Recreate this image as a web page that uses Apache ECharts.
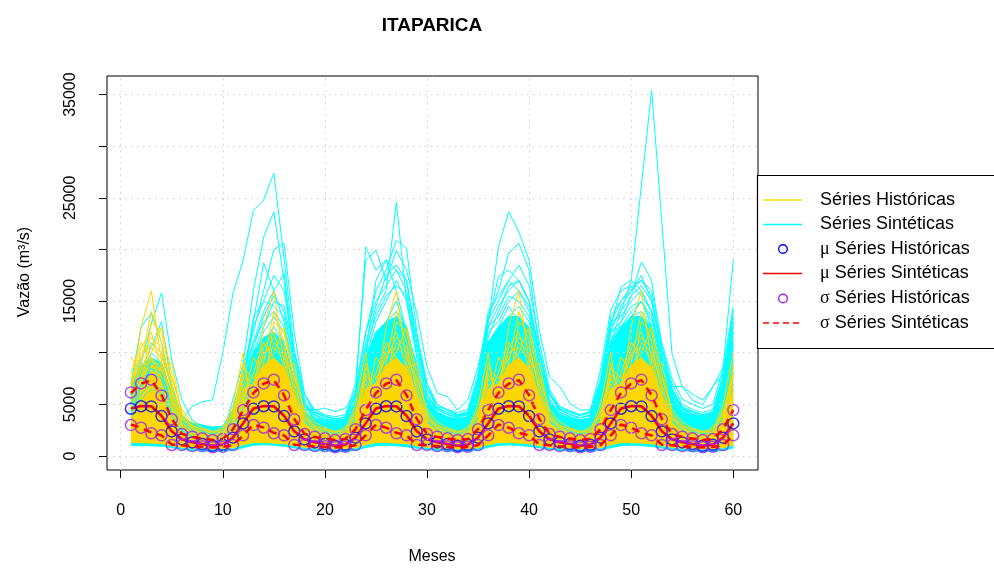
<!DOCTYPE html>
<html><head><meta charset="utf-8">
<script src="https://cdn.jsdelivr.net/npm/echarts@6/dist/echarts.min.js"></script>
<style>html,body{margin:0;padding:0;background:#fff}#c{width:994px;height:568px}</style>
</head><body><div id="c"></div>
<script>
// ---------- DATA ----------
const months = Array.from({length: 60}, (_, i) => i + 1);
const xTicks = [0, 10, 20, 30, 40, 50, 60];
const yTicks = [0, 5000, 10000, 15000, 20000, 25000, 30000, 35000];
const yTickLabels = [0, 5000, 15000, 25000, 35000];

// Monthly statistics (12 months, repeated every year)
const histMean12  = [4580, 4820, 4800, 3870, 2380, 1610, 1320, 1160, 990, 1080, 1780, 3160];
const histUpper12 = [6160, 7030, 7390, 5870, 3550, 2130, 1870, 1710, 1550, 1640, 2580, 4450];
const histLower12 = [3000, 2740, 2200, 2000, 1070, 1060, 960, 950, 850, 900, 1060, 2000];
const synMean12   = [4600, 4850, 4820, 3900, 2400, 1620, 1330, 1170, 1000, 1090, 1790, 3180];
const synUpper12  = [6100, 7000, 7350, 5900, 3600, 2150, 1850, 1700, 1550, 1650, 2600, 4450];
const synLower12  = [3050, 2750, 2250, 2000, 1100, 1050, 950, 900, 830, 880, 1050, 2000];

// Historical series (dense band + individual years), 12-month patterns
const goldLow12  = [1300, 1300, 1250, 1200, 1000, 850, 760, 720, 680, 700, 800, 1100];
const goldCore12 = [7000, 8800, 9500, 8500, 5800, 3200, 2400, 2100, 1900, 2100, 3400, 6500];
const gold1 = [9600, 8000, 7000, 5500, 4000, 2600, 2000, 1700, 1500, 1700, 2500, 5000];
const gold2 = [6000, 12500, 16000, 9000, 5500, 3200, 2400, 2000, 1800, 1900, 3000, 6500];
const gold3 = [5500, 9000, 14000, 11000, 6000, 3500, 2600, 2200, 2000, 2100, 3500, 7500];
const gold4 = [7000, 10500, 12000, 8500, 9000, 4000, 2800, 2300, 2000, 2200, 4000, 8000];
const gold5 = [4500, 7500, 11000, 10000, 5000, 3000, 2200, 1900, 1700, 1800, 2800, 9000];
const gold6 = [8000, 11000, 9500, 7000, 4500, 2800, 2100, 1800, 1600, 1900, 4500, 6000];
const gold7 = [3500, 6500, 13000, 12000, 7000, 3800, 2700, 2200, 2000, 2400, 5000, 10000];
const gold8 = [5000, 8500, 10000, 12500, 8000, 4200, 3000, 2500, 2200, 2600, 3800, 7000];
const gold9 = [7500, 9500, 11500, 10500, 6500, 3600, 2900, 2600, 2300, 2800, 4200, 8500];
const gold10 = [6500, 10000, 10500, 9500, 7500, 4500, 3300, 2700, 2400, 2300, 3300, 7800];

// Synthetic series: dense band (60 months) + individual series
const cyanLow = [1000,1000,1000,950,800,650,550,480,430,440,550,800,
  1050,1100,1050,950,780,620,520,470,420,430,540,820,
  1000,1050,1000,900,760,630,530,480,440,450,560,850,
  1020,1080,1020,940,790,640,540,470,420,430,550,800,
  1000,1050,1000,920,770,610,510,460,410,420,530,780];
const cyanCore = [6000,8500,9500,9000,6000,3800,3200,3000,2800,2900,4500,7500,
  10000,11500,12000,11000,7500,4300,3600,3400,3300,3500,5200,9500,
  12000,13000,13500,12500,8500,5500,4200,3800,3600,3800,6500,11000,
  12500,13500,13500,12500,8500,5200,4000,3700,3500,3600,6200,11000,
  12500,13500,13500,12500,8500,5800,4300,3900,3700,4000,6800,11500];
const syn1 = [5200,7000,8500,7500,4200,3600,4800,5250,5430,9970,15770,18970,
  23800,24770,27390,19160,10260,6000,4300,3900,3600,3500,5000,9000,
  11000,12500,13000,11500,8000,5000,3800,3300,3000,3200,5500,9500,
  10500,12000,12500,11000,7000,4500,3500,3000,2800,2900,5000,9000,
  11500,12500,13500,11000,7500,5000,3800,3300,3000,3200,5500,9500];
const syn2 = [4500,6800,9000,8000,5000,3000,2400,2100,1900,2200,5500,9000,
  16000,21200,23640,17000,9000,5000,3800,3400,3200,3300,4500,8000,
  12000,13000,15000,12000,8000,4800,3600,3200,3000,3400,6000,11000,
  12500,14500,13000,12000,7500,4500,3600,3100,2800,3000,5500,10000,
  12000,13500,15000,12500,8000,5500,4000,3600,3300,3600,6000,10500];
const syn3 = [6000,8500,10500,13000,7000,3800,2800,2400,2200,2300,3500,8000,
  12000,16000,20000,20600,12000,6000,4200,3800,3500,3800,6000,12000,
  16000,18000,20900,20100,12000,7000,4600,4000,3700,4000,7000,12000,
  13000,15000,16000,14000,9000,5500,4000,3500,3200,3500,6000,11000,
  13000,15500,18800,17000,10500,6500,4500,4000,3800,4000,7000,12000];
const syn4 = [7000,12500,13800,11000,6500,3500,2600,2300,2000,2100,3800,7000,
  13000,18700,16000,17700,9500,5000,3600,3200,3000,3200,5000,10000,
  14000,16000,24600,15000,10000,6000,4200,3700,3400,3600,6500,11500,
  14000,16500,17000,15000,10000,6000,4300,3800,3500,3700,6500,12000,
  14500,16000,17000,15500,10000,6500,4800,4300,4000,4200,7000,13000];
const syn5 = [5500,9000,12800,15800,9300,5400,3500,2800,2500,2600,4000,7500,
  11000,14000,16000,13000,8000,4800,3800,3400,3100,3300,5500,10000,
  17000,19000,18000,16000,11000,7000,5000,4400,4000,4200,7500,13000,
  17350,18000,17000,15000,10000,6000,4500,4000,3700,3900,6800,12500,
  16380,17030,16000,14000,9500,6500,4600,4000,3800,4100,8000,14130];
const syn6 = [5000,7000,8000,7500,4500,2700,2100,1800,1600,1800,3000,6500,
  9000,11000,12500,11000,7000,4000,3200,2900,2700,2800,4500,8500,
  10500,12500,13500,12000,8000,5000,3800,3400,3100,3300,5800,10000,
  11000,12000,13000,12000,8500,5200,4000,3500,3300,3500,6500,11000,
  14000,17000,26200,35400,22700,9900,6700,6000,5400,6700,8600,18970];
const syn7 = [4800,8000,10000,9000,5500,3200,2500,2200,2000,2300,4200,8000,
  11000,13000,14000,12500,8500,5000,4000,3500,3300,3600,6000,20250,
  18000,19000,16000,12000,9000,6000,4500,4000,3800,4000,7000,12500,
  13500,15500,15000,13500,9000,5500,4200,3800,3500,3700,6500,12000,
  12500,14000,15000,13000,9000,6000,4500,4000,3700,4000,6800,12000];
const syn8 = [5800,8800,9500,9000,6000,3600,2700,2400,2100,2300,4000,7500,
  10000,12500,15000,14500,10000,6000,4500,4000,3800,4000,7000,18970,
  19930,17000,19900,18000,13800,8640,6100,5740,4450,5420,8640,13160,
  15000,17000,16000,14500,9500,6000,4500,4000,3700,4000,7000,13000,
  13500,15000,16000,14000,9000,6200,4700,4300,4000,4300,7500,13000];
const syn9 = [4200,6500,8500,8000,5000,3000,2300,2000,1800,2000,3500,6000,
  9500,12000,13500,12000,8000,4600,3600,3200,3000,3200,5200,9500,
  13000,15000,17000,15000,9500,5800,4300,3800,3500,3800,7000,13000,
  20250,23640,21700,18970,12190,7670,6710,5100,4450,4450,8320,14130,
  16000,16500,15500,14000,9000,6000,4500,4000,3800,4000,7000,12500];
const syn10 = [5500,8000,9000,8500,5500,3300,2500,2200,2000,2200,3800,7000,
  10500,13500,15500,14000,9000,5200,4000,3600,3400,3600,6000,11000,
  14500,17500,18500,17000,11000,6500,4700,4200,3900,4200,7500,13500,
  16000,19640,20600,18000,10260,6200,4600,4200,3900,4200,7200,13000,
  15000,16000,17500,15000,10580,7000,5000,4500,4200,4500,7800,13500];
const syn11 = [6200,9500,11000,10000,6500,4000,3000,2600,2400,2500,4500,8500,
  12500,15000,17500,16000,10000,5500,4200,3800,3600,3800,6500,12000,
  15000,16500,18000,17000,11500,7000,5000,4500,4200,4500,8000,14000,
  15500,17000,18500,16500,11000,6500,4800,4300,4000,4300,7500,13500,
  15000,16380,17030,16000,11000,7500,5500,5000,4600,5000,8500,14500];
const syn12 = [4000,6000,7000,6500,4000,2500,2000,1800,1600,1700,2800,5000,
  8000,10000,11000,10000,7000,4500,4450,4640,4290,4640,6100,9000,
  11000,13000,14000,12500,8500,5500,4770,4500,4000,4300,7000,11000,
  12000,13500,14500,13000,9000,6000,4800,4400,4000,4300,7000,12000,
  13000,14500,15000,13500,9000,6710,6710,5420,4940,6710,8000,11000];
const syn13 = [3500,5500,6500,6000,3800,2400,1900,1700,1500,1600,2600,4500,
  7000,9000,10500,9500,6500,4000,3200,2800,2600,2800,4500,8000,
  10000,12000,13000,11000,7500,4800,3700,3300,3100,3300,5500,9500,
  11000,12500,13500,12000,8000,5000,3900,3500,3200,3400,6000,10500,
  12000,13500,14000,12500,8500,5500,4200,3800,3500,3800,6500,13500];
const syn14 = [5200,8200,9200,8800,5800,3400,2600,2300,2100,2300,4000,7200,
  13500,15000,14500,13500,9000,5200,4000,3600,3400,3600,5800,10500,
  13500,15500,16500,15500,10500,6500,4600,4200,3900,4100,7200,12500,
  14500,16000,17000,15000,10000,6000,4500,4000,3700,4000,6800,12500,
  14000,15500,16500,15000,9800,6300,4600,4200,3900,4200,7200,12800];

// ---------- BUILD ----------
const FONT = '"Liberation Sans", Arial, Helvetica, sans-serif';
const GOLD = '#FFD700', CYAN = '#00FFFF', BLUE = '#0000FF', PURPLE = '#A020F0', RED = '#FF0000';
const tile = a => a.concat(a, a, a, a);
const pairs = vals => vals.map((v, i) => [months[i], v]);

function line(vals, color, width, extra) {
  return Object.assign({
    type: 'line', data: pairs(vals), symbol: 'none', showSymbol: false, silent: true,
    animation: false, lineStyle: {color: color, width: width}, z: 2
  }, extra || {});
}
// stacked band: value in first column so the stack applies to the y values
function band(low, high, color, stackId) {
  const diff = high.map((v, i) => v - low[i]);
  const mk = (vals, extra) => Object.assign({
    type: 'line', data: vals.map((v, i) => [v, months[i]]), encode: {x: 1, y: 0},
    symbol: 'none', showSymbol: false, silent: true, animation: false, stack: stackId,
    lineStyle: {color: color, width: 1}, z: 2
  }, extra || {});
  return [mk(low), mk(diff, {areaStyle: {color: color, opacity: 1}})];
}
function pointsSeries(vals, color) {
  return {
    type: 'scatter', data: pairs(vals), symbol: 'circle', symbolSize: 11, silent: true, animation: false,
    itemStyle: {color: 'rgba(0,0,0,0)', borderColor: color, borderWidth: 1.5}, z: 3
  };
}

const series = [];
// grid lines (dotted, light gray)
series.push({
  type: 'line', data: [], silent: true, animation: false, z: 1,
  markLine: {
    silent: true, symbol: 'none', animation: false, label: {show: false},
    lineStyle: {color: '#cfcfcf', type: [1.5, 4.5], width: 1},
    data: yTicks.map(v => ({yAxis: v})).concat(xTicks.map(v => ({xAxis: v})))
  }
});
band(cyanLow, cyanCore, CYAN, 'cyan').forEach(s => series.push(s));
[syn1, syn2, syn3, syn4, syn5, syn6, syn7, syn8, syn9, syn10, syn11, syn12, syn13, syn14]
  .forEach(s => series.push(line(s, CYAN, 1)));
band(tile(goldLow12), tile(goldCore12), GOLD, 'gold').forEach(s => series.push(s));
[gold1, gold2, gold3, gold4, gold5, gold6, gold7, gold8, gold9, gold10]
  .forEach(g => series.push(line(tile(g), GOLD, 1)));
series.push(pointsSeries(tile(histMean12), BLUE));
series.push(line(tile(synMean12), RED, 2.5, {z: 3}));
series.push(pointsSeries(tile(histUpper12), PURPLE));
series.push(pointsSeries(tile(histLower12), PURPLE));
series.push(line(tile(synUpper12), RED, 2.5, {z: 4, lineStyle: {color: RED, width: 2.5, type: [8, 6]}}));
series.push(line(tile(synLower12), RED, 2.5, {z: 4, lineStyle: {color: RED, width: 2.5, type: [8, 6]}}));

// legend drawn as graphic
const legendItems = [
  {kind: 'line', color: GOLD, sym: '', text: 'Séries Históricas'},
  {kind: 'line', color: CYAN, sym: '', text: 'Séries Sintéticas'},
  {kind: 'circle', color: BLUE, sym: 'μ', text: ' Séries Históricas'},
  {kind: 'line', color: RED, sym: 'μ', text: ' Séries Sintéticas'},
  {kind: 'circle', color: PURPLE, sym: 'σ', text: ' Séries Históricas'},
  {kind: 'dash', color: RED, sym: 'σ', text: ' Séries Sintéticas'}
];
const legendRowsY = [200, 224.5, 249, 273.5, 298.5, 323];
const graphics = [
  {type: 'text', x: 432, y: 26, style: {text: 'ITAPARICA', fontFamily: FONT, fontSize: 19, fontWeight: 'bold', fill: '#000', align: 'center', verticalAlign: 'middle'}},
  {type: 'text', x: 432, y: 557, style: {text: 'Meses', fontFamily: FONT, fontSize: 16, fill: '#000', align: 'center', verticalAlign: 'middle'}},
  {type: 'text', x: 25, y: 272, rotation: Math.PI / 2, style: {text: 'Vazão (m³/s)', fontFamily: FONT, fontSize: 16, fill: '#000', align: 'center', verticalAlign: 'middle'}},
  {type: 'rect', shape: {x: 757.5, y: 175.5, width: 260, height: 173}, style: {fill: '#fff', stroke: '#000', lineWidth: 1.2}, z: 10}
];
legendItems.forEach((it, i) => {
  const y = legendRowsY[i];
  if (it.kind === 'circle') {
    graphics.push({type: 'circle', shape: {cx: 783, cy: y, r: 4.3}, style: {fill: 'none', stroke: it.color, lineWidth: 1.4}, z: 11});
  } else {
    const st = {stroke: it.color, lineWidth: 1.5};
    if (it.kind === 'dash') st.lineDash = [6, 4];
    graphics.push({type: 'line', shape: {x1: 763, y1: y, x2: 802, y2: y}, style: st, z: 11});
  }
  graphics.push({type: 'text', x: 820, y: y, z: 11, style: {
    text: (it.sym ? '{g|' + it.sym + '}' : '') + it.text,
    fontFamily: FONT, fontSize: 18, fill: '#000', verticalAlign: 'middle', align: 'left',
    rich: {g: {fontFamily: '"Liberation Serif", "Times New Roman", serif', fontSize: 18, fill: '#000'}}
  }});
});

const chart = echarts.init(document.getElementById('c'), null, {renderer: 'canvas'});
chart.setOption({
  backgroundColor: '#fff',
  animation: false,
  grid: {left: 107, top: 76, right: 236, bottom: 98, show: true, borderColor: '#000', borderWidth: 1, backgroundColor: 'transparent'},
  xAxis: {
    type: 'value', min: -1.34, max: 62.42,
    axisLine: {show: false, onZero: false},
    axisTick: {show: true, length: 8, lineStyle: {color: '#000'}, customValues: xTicks},
    axisLabel: {show: true, fontFamily: FONT, fontSize: 16, color: '#000', margin: 33, customValues: xTicks, formatter: v => String(v)},
    splitLine: {show: false}
  },
  yAxis: {
    type: 'value', min: -1355, max: 36800,
    axisLine: {show: false, onZero: false},
    axisTick: {show: true, length: 8, lineStyle: {color: '#000'}, customValues: yTicks},
    axisLabel: {show: true, fontFamily: FONT, fontSize: 16, color: '#000', margin: 28, rotate: 90, customValues: yTickLabels, formatter: v => String(v)},
    splitLine: {show: false}
  },
  series: series,
  graphic: graphics
});
</script></body></html>
